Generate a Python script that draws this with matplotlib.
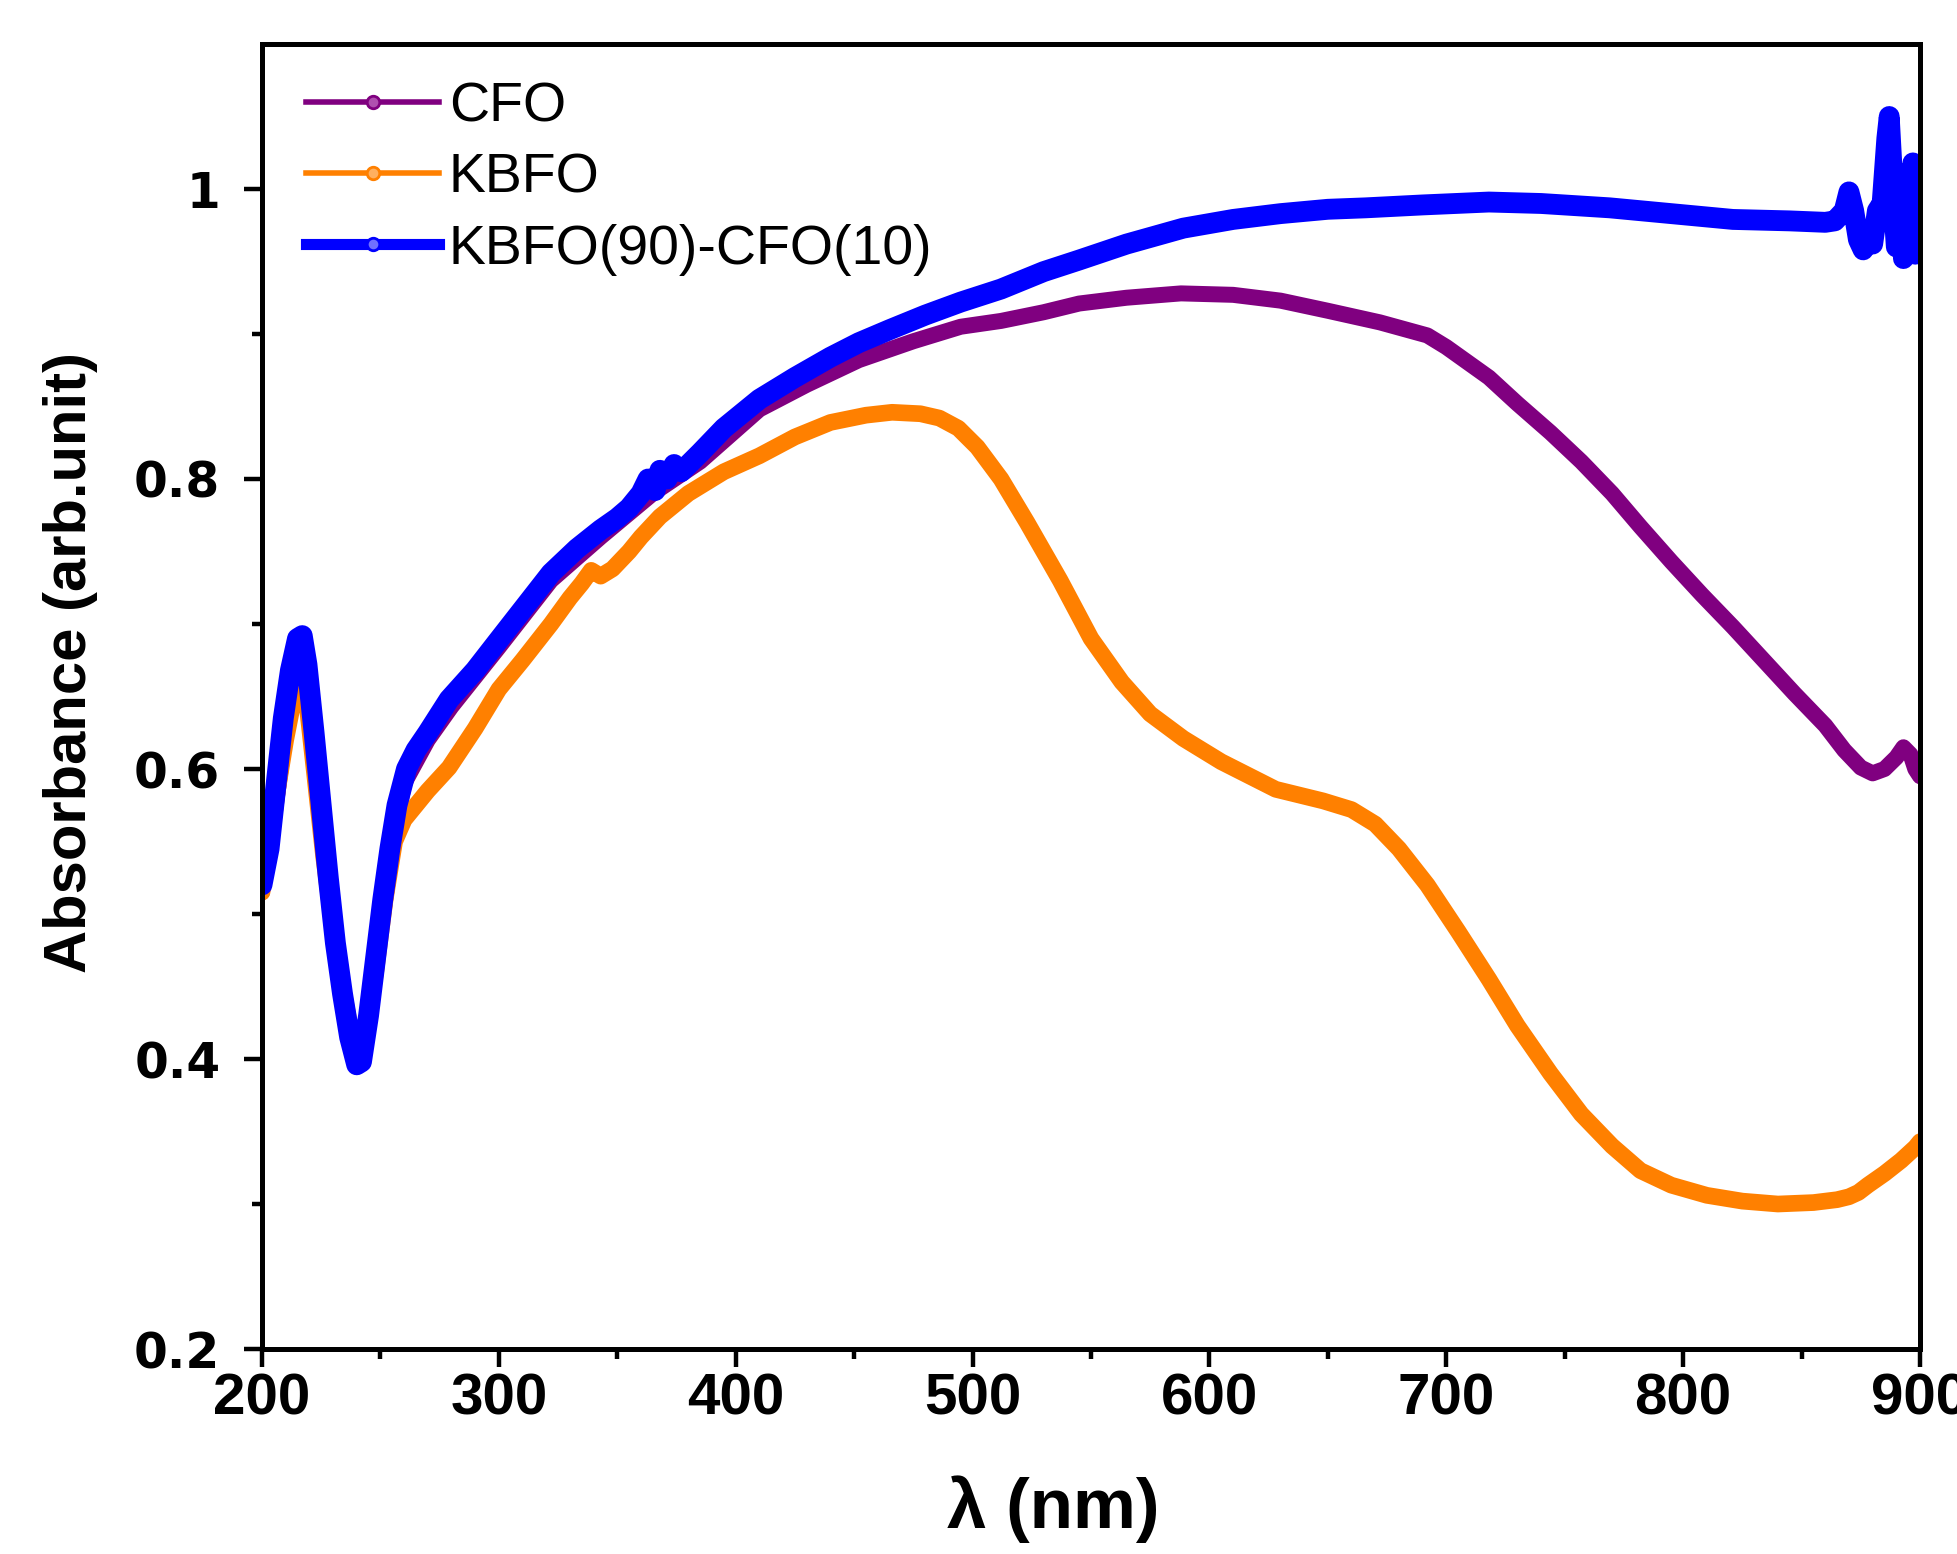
import numpy as np
import matplotlib
matplotlib.use('Agg')
from matplotlib import pyplot as plt
from matplotlib.lines import Line2D
from matplotlib.ticker import FixedLocator, FuncFormatter


# UV-vis absorbance spectra

wl_cfo = [200, 205, 210, 215, 218, 222, 226, 230, 235, 240, 244, 248, 252, 256, 260,
          270, 280, 300, 322, 343, 365, 385, 410, 430, 452, 475, 495, 512, 530, 545,
          565, 588, 610, 630, 650, 672, 692, 700, 718, 730, 744, 757, 770, 782, 795,
          808, 821, 834, 847, 860, 868, 875, 880, 885, 890, 893, 896, 898, 900]
abs_cfo = [0.515, 0.565, 0.625, 0.675, 0.67, 0.62, 0.56, 0.49, 0.435, 0.40, 0.42, 0.465,
           0.51, 0.555, 0.59, 0.62, 0.643, 0.684, 0.73, 0.76, 0.79, 0.812, 0.848, 0.865,
           0.882, 0.895, 0.905, 0.909, 0.915, 0.921, 0.925, 0.928, 0.927, 0.923, 0.916,
           0.908, 0.899, 0.891, 0.87, 0.852, 0.832, 0.812, 0.790, 0.767, 0.743, 0.72,
           0.698, 0.675, 0.652, 0.63, 0.613, 0.601, 0.597, 0.60, 0.608, 0.615, 0.61, 0.60,
           0.595]

wl_kbfo = [200, 205, 210, 213, 216, 219, 222, 226, 230, 234, 238, 241, 244, 248, 252,
           256, 260, 265, 270, 279, 290, 300, 310, 322, 330, 335, 339, 343, 348, 355,
           360, 368, 380, 395, 410, 425, 440, 455, 466, 478, 486, 494, 502, 512, 523,
           537, 550, 563, 575, 589, 605, 628, 648, 660, 670, 680, 692, 705, 718, 730,
           744, 757, 770, 782, 795, 810, 825, 840, 855, 865, 870, 874, 878, 885, 892,
           898, 900]
abs_kbfo = [0.515, 0.57, 0.62, 0.645, 0.66, 0.645, 0.60, 0.54, 0.49, 0.45, 0.415, 0.405,
            0.42, 0.46, 0.51, 0.55, 0.565, 0.575, 0.585, 0.601, 0.628, 0.655, 0.675,
            0.70, 0.718, 0.728, 0.737, 0.733, 0.738, 0.75, 0.76, 0.774, 0.79, 0.805,
            0.816, 0.829, 0.839, 0.844, 0.846, 0.845, 0.842, 0.835, 0.822, 0.80, 0.77,
            0.73, 0.69, 0.66, 0.638, 0.621, 0.605, 0.586, 0.578, 0.572, 0.562, 0.545,
            0.52, 0.488, 0.455, 0.423, 0.39, 0.362, 0.34, 0.323, 0.313, 0.306, 0.302,
            0.300, 0.301, 0.303, 0.305, 0.308, 0.313, 0.321, 0.33, 0.339, 0.343]

wl_mix = [200, 203, 206, 209, 212, 215, 217, 219, 222, 225, 228, 231, 234, 237, 240,
          242, 245, 248, 251, 254, 257, 261, 265, 270, 279, 290, 300, 311, 322, 333,
          343, 350, 355, 360, 363, 366, 368, 371, 374, 377, 385, 395, 410, 425, 440,
          452, 465, 480, 495, 512, 530, 545, 565, 589, 610, 630, 650, 666, 690, 718,
          740, 769, 795, 821, 845, 860, 864, 868, 870, 872, 874, 876, 878, 880, 882,
          884, 886, 887, 888, 889, 890, 891, 892, 893, 894, 895, 896, 897, 898, 899,
          900]
abs_mix = [0.52, 0.545, 0.59, 0.635, 0.668, 0.69, 0.692, 0.672, 0.625, 0.575, 0.525,
           0.48, 0.445, 0.415, 0.396, 0.398, 0.43, 0.47, 0.51, 0.545, 0.575, 0.60,
           0.613, 0.625, 0.648, 0.668, 0.689, 0.712, 0.735, 0.752, 0.765, 0.773, 0.78,
           0.79, 0.80, 0.792, 0.806, 0.80, 0.81, 0.805, 0.818, 0.835, 0.855, 0.87,
           0.884, 0.894, 0.903, 0.913, 0.922, 0.931, 0.943, 0.951, 0.962, 0.973, 0.979,
           0.983, 0.986, 0.987, 0.989, 0.991, 0.99, 0.987, 0.983, 0.979, 0.978, 0.977,
           0.978, 0.985, 0.998, 0.985, 0.965, 0.958, 0.97, 0.962, 0.985, 0.99, 1.035,
           1.05, 1.02, 0.985, 0.96, 0.975, 1.0, 0.952, 0.975, 1.01, 0.97, 1.018, 0.955,
           0.99, 0.96]

labels = ['CFO', 'KBFO', 'KBFO(90)-CFO(10)']
colors = ['#800080', '#FF8000', '#0000FF']
light = ['#B050B0', '#FFB060', '#7070FF']
widths = [11.5, 12, 15]

plt.rcParams['font.family'] = ['Liberation Sans', 'DejaVu Sans']

fig = plt.figure(figsize=(19.58, 15.54), dpi=100)
ax = fig.add_subplot(111)
fig.subplots_adjust(left=0.1338, right=0.9806, bottom=0.1319, top=0.9717)

series = [(wl_cfo, abs_cfo), (wl_kbfo, abs_kbfo), (wl_mix, abs_mix)]
for (x, y), c, lw in zip(series, colors, widths):
    ax.plot(x, y, color=c, lw=lw, solid_capstyle='round', solid_joinstyle='round')

ax.set_xlim(200, 900)
ax.set_ylim(0.2, 1.1)

ax.set_xticks(np.arange(200, 901, 100))
ax.set_yticks([0.2, 0.4, 0.6, 0.8, 1.0])
ax.xaxis.set_minor_locator(FixedLocator(np.arange(250, 900, 100)))
ax.yaxis.set_minor_locator(FixedLocator([0.3, 0.5, 0.7, 0.9]))
ax.yaxis.set_major_formatter(FuncFormatter(lambda v, p: '%g' % v))

for s in ax.spines.values():
    s.set_linewidth(3.6)
ax.tick_params(which='major', direction='out', length=13, width=3.2)
ax.tick_params(which='minor', direction='out', length=7, width=3.2)
ax.tick_params(axis='x', which='major', pad=4)
ax.tick_params(axis='y', which='major', pad=17)

for t in ax.get_xticklabels():
    t.set_fontsize(42)
    t.set_fontweight('bold')
for t in ax.get_yticklabels():
    t.set_fontsize(35)
    t.set_fontweight('bold')
    t.set_family('DejaVu Sans')

ax.set_xlabel('λ (nm)', fontsize=51, fontweight='bold')
ax.set_ylabel('Absorbance (arb.unit)', fontsize=43, fontweight='bold')
ax.xaxis.set_label_coords(0.477, -0.097)
ax.yaxis.set_label_coords(-0.099, 0.526)

handles = [Line2D([], [], color=c, lw=4 if i < 2 else 8, marker='o', ms=9,
                  mfc=lc, mec=c, mew=2)
           for i, (c, lc) in enumerate(zip(colors, light))]
ax.legend(handles, labels, loc='upper left', bbox_to_anchor=(0.0265, 0.971),
          frameon=False, fontsize=40, borderaxespad=0, borderpad=0,
          handlelength=2.4, handletextpad=0.17, labelspacing=0.34)

fig.savefig('out.png', dpi=100)
